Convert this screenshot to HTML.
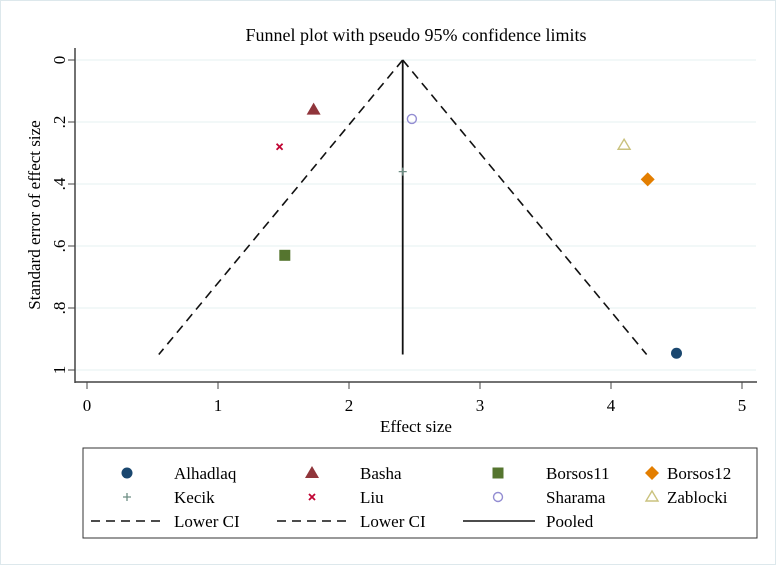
<!DOCTYPE html>
<html><head><meta charset="utf-8"><style>
html,body{margin:0;padding:0;background:#fff}
svg{display:block;font-family:"Liberation Serif",serif}
</style></head><body>
<svg width="776" height="565" viewBox="0 0 776 565">
<rect x="0.5" y="0.5" width="775" height="564" fill="#fff" stroke="#dde8ec"/>
<text x="416" y="41" font-size="18" text-anchor="middle">Funnel plot with pseudo 95% confidence limits</text>
<g id="grid"></g>
<g id="axes"></g>
<g id="marks"></g>
<text x="416" y="432" font-size="17" text-anchor="middle">Effect size</text>
<text transform="translate(40,215) rotate(-90)" font-size="17" text-anchor="middle">Standard error of effect size</text>
<g id="legend"></g>
</svg>
<script>
const studies=["Alhadlaq","Basha","Borsos11","Borsos12","Kecik","Liu","Sharama","Zablocki"];
const effects=[4.50,1.73,1.51,4.28,2.41,1.47,2.48,4.10];
const ses=[0.946,0.16,0.63,0.385,0.36,0.28,0.19,0.275];
const pooled=2.41;
const maxSE=0.95;
const xTicks=[0,1,2,3,4,5];
const yTicks=[0,0.2,0.4,0.6,0.8,1];
const yTickLabels=["0",".2",".4",".6",".8","1"];
const NS="http://www.w3.org/2000/svg";
const sx=v=>87+v*131, sy=v=>60+v*310;
function mk(tag,attrs,parent,txt){const e=document.createElementNS(NS,tag);for(const k in attrs)e.setAttribute(k,attrs[k]);if(txt!==undefined)e.textContent=txt;document.getElementById(parent)?document.getElementById(parent).appendChild(e):parent.appendChild(e);return e;}
// grid
yTicks.forEach((t,i)=>{const l=mk('line',{x1:76,x2:756,y1:sy(t),y2:sy(t),stroke:'#e6f0f2','stroke-width':1},'grid');

});
// axes
const ya=mk('line',{x1:75,x2:75,y1:48,y2:383,stroke:'#444','stroke-width':1.5},'axes');


const xa=mk('line',{x1:75,x2:757,y1:382,y2:382,stroke:'#444','stroke-width':1.5},'axes');


yTicks.forEach((t,i)=>{mk('line',{x1:68,x2:75,y1:sy(t),y2:sy(t),stroke:'#444'},'axes');
const tx=mk('text',{transform:`translate(65,${sy(t)}) rotate(-90)`,'font-size':17,'text-anchor':'middle'},'axes',yTickLabels[i]);

});
xTicks.forEach(t=>{mk('line',{x1:sx(t),x2:sx(t),y1:382,y2:389,stroke:'#444'},'axes');
const tx=mk('text',{x:sx(t),y:411,'font-size':17,'text-anchor':'middle'},'axes',String(t));

});
// funnel
const lo=mk('line',{x1:sx(pooled),y1:sy(0),x2:sx(pooled-1.96*maxSE),y2:sy(maxSE),stroke:'#111','stroke-width':1.6,'stroke-dasharray':'9,6'},'marks');


const up=mk('line',{x1:sx(pooled),y1:sy(0),x2:sx(pooled+1.96*maxSE),y2:sy(maxSE),stroke:'#111','stroke-width':1.6,'stroke-dasharray':'9,6'},'marks');


const pl=mk('line',{x1:sx(pooled),y1:sy(0),x2:sx(pooled),y2:sy(maxSE),stroke:'#111','stroke-width':1.8},'marks');


function marker(i,x,y,parent){
 const g=mk('g',{},parent);
 switch(i){
 case 0: mk('circle',{cx:x,cy:y,r:5.5,fill:'#1a476f'},g);break;
 case 1: mk('polygon',{points:`${x},${y-7} ${x-7},${y+5} ${x+7},${y+5}`,fill:'#90353b'},g);break;
 case 2: mk('rect',{x:x-5.5,y:y-5.5,width:11,height:11,fill:'#55752f'},g);break;
 case 3: mk('polygon',{points:`${x},${y-7} ${x+7},${y} ${x},${y+7} ${x-7},${y}`,fill:'#e37e00'},g);break;
 case 4: mk('path',{d:`M${x-4} ${y}H${x+4}M${x} ${y-4}V${y+4}`,stroke:'#6e8e84','stroke-width':1.3},g);break;
 case 5: mk('path',{d:`M${x-3} ${y-3}L${x+3} ${y+3}M${x+3} ${y-3}L${x-3} ${y+3}`,stroke:'#c10534','stroke-width':1.8},g);break;
 case 6: mk('circle',{cx:x,cy:y,r:4.5,fill:'none',stroke:'#938dd2','stroke-width':1.4},g);break;
 case 7: mk('polygon',{points:`${x},${y-6} ${x-6},${y+4} ${x+6},${y+4}`,fill:'none',stroke:'#cac27e','stroke-width':1.4},g);break;
 }
 return g;
}
studies.forEach((s,i)=>{const g=marker(i,sx(effects[i]),sy(ses[i]),'marks');

});
// legend
const lb=mk('rect',{x:83,y:448,width:674,height:90,fill:'#fff',stroke:'#333','stroke-width':1},'legend');


const mX=[127,312,498,652], tX=[174,360,546,667], rY=[473,497,521];
studies.forEach((s,i)=>{const c=i%4,r=Math.floor(i/4);
const g=mk('g',{},'legend');


marker(i,mX[c],rY[r],g);
mk('text',{x:tX[c],y:rY[r]+6,'font-size':17},g,s);});
[["Lower CI",true],["Lower CI",true],["Pooled",false]].forEach((e,c)=>{
const g=mk('g',{},'legend');


const x0=[91,277,463][c];
mk('line',{x1:x0,x2:x0+72,y1:521,y2:521,stroke:'#111','stroke-width':1.6,'stroke-dasharray':e[1]?'9,6':'none'},g);
mk('text',{x:tX[c],y:527,'font-size':17},g,e[0]);});
</script>
</body></html>
